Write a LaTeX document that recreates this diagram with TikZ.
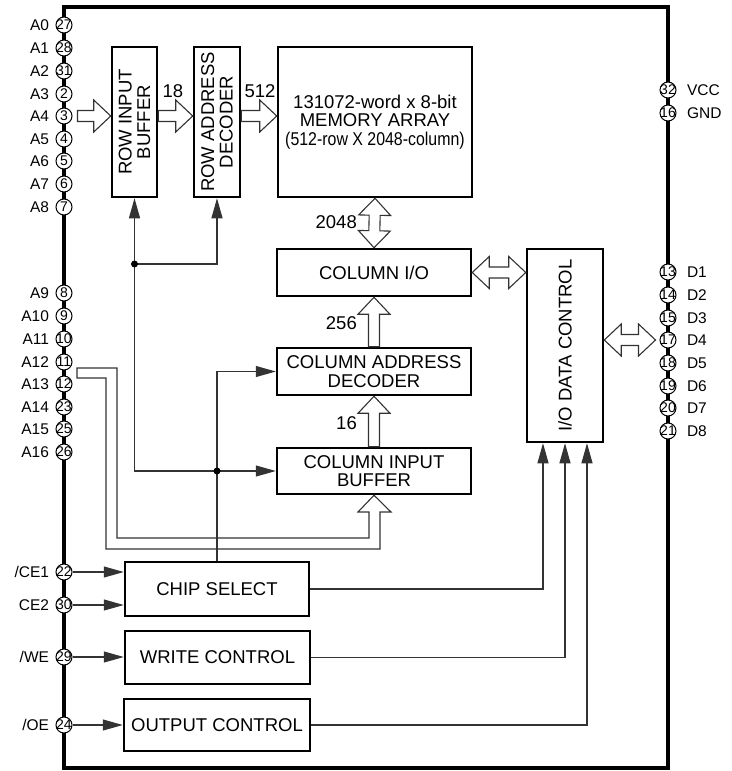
\documentclass[tikz,border=0pt]{standalone}
\usepackage{graphicx}
\usepackage{fontspec}
\setmainfont{Liberation Sans}
\usetikzlibrary{arrows.meta,positioning,calc}
\newcommand{\blockfont}{\fontsize{18.5}{18.5}\selectfont}
\newcommand{\pinfont}{\fontsize{15.5}{15.5}\selectfont}
\newcommand{\numfont}{\fontsize{14}{14}\selectfont}
% hollow bus arrows: #1 = tail, #2 = tip
\newcommand{\busone}[2]{%
  \path ($(#2)!17pt!(#1)$) coordinate (hb);
  \draw[busline] ($(#1)!5.5pt!90:(#2)$) -- ($(hb)!5.5pt!90:(#2)$)
    -- ($(hb)!16pt!90:(#2)$) -- (#2) -- ($(hb)!16pt!-90:(#2)$)
    -- ($(hb)!5.5pt!-90:(#2)$) -- ($(#1)!5.5pt!-90:(#2)$) -- cycle;}
\newcommand{\bustwo}[2]{%
  \path ($(#2)!17pt!(#1)$) coordinate (hb) ($(#1)!17pt!(#2)$) coordinate (ha);
  \draw[busline] (#1) -- ($(ha)!16pt!90:(#2)$) -- ($(ha)!5.5pt!90:(#2)$)
    -- ($(hb)!5.5pt!90:(#2)$) -- ($(hb)!16pt!90:(#2)$) -- (#2)
    -- ($(hb)!16pt!-90:(#2)$) -- ($(hb)!5.5pt!-90:(#2)$)
    -- ($(ha)!5.5pt!-90:(#2)$) -- ($(ha)!16pt!-90:(#2)$) -- cycle;}

\begin{document}
\begin{tikzpicture}[x=1pt, y=-1pt,
  block/.style={draw, line width=2.5pt, align=center, inner sep=0pt,
    font=\blockfont},
  pin/.style={circle, draw, line width=1pt, fill=white, minimum size=16pt,
    inner sep=0pt, font=\numfont},
  pinlbl/.style={font=\pinfont},
  ctl/.style={draw=black!80, line width=1.1pt},
  arrow/.style={ctl, -{Triangle[length=20pt,width=11pt]}},
  busline/.style={draw=black!80, line width=1.1pt, fill=white},
  num/.style={font=\blockfont, inner sep=1pt},
  dot/.style={circle, fill=black, inner sep=0pt, minimum size=7pt}
]
\useasboundingbox (0,0) rectangle (731,771);

% Package outline
\draw[line width=3.5pt] (64,7) rectangle (668,768);

% Blocks
\node[block, minimum width=150, minimum height=45, rotate=90] (rbuf) at (134.5,122) {ROW INPUT\\BUFFER};
\node[block, minimum width=150, minimum height=46, rotate=90] (rdec) at (217,122) {ROW ADDRESS\\DECODER};
\node[block, minimum width=194, minimum height=150] (mem) at (375,122)
  {131072-word x 8-bit\\MEMORY ARRAY\\\scalebox{0.86}[1]{(512-row X 2048-column)}};
\node[block, minimum width=194, minimum height=47] (colio) at (374,272.5) {COLUMN I/O};
\node[block, minimum width=194, minimum height=47] (cadec) at (374,371.5) {COLUMN ADDRESS\\DECODER};
\node[block, minimum width=194, minimum height=46] (cibuf) at (374,471) {COLUMN INPUT\\BUFFER};
\node[block, minimum width=193, minimum height=76, rotate=90] (iodc) at (565,345.5) {I/O DATA CONTROL};
\node[block, minimum width=184, minimum height=54] (chipsel) at (217,589) {CHIP SELECT};
\node[block, minimum width=185, minimum height=53] (wrctl) at (217.5,657.5) {WRITE CONTROL};
\node[block, minimum width=186, minimum height=52] (outctl) at (217,725) {OUTPUT CONTROL};

% Address bus A12/A13
\draw[busline] (77,368) -- (117,368) -- (117,538) -- (369,538) -- (369,512)
  -- (358,512) -- (cibuf.south) -- (391,512) -- (380,512) -- (380,549)
  -- (106,549) -- (106,378) -- (77,378) -- cycle;

% Pins
\foreach \lbl/\num/\y in {A0/27/25, A1/28/48, A2/31/71, A3/2/94, A4/3/116,
    A5/4/139, A6/5/161, A7/6/184, A8/7/207, A9/8/293, A10/9/316, A11/10/339,
    A12/11/362, A13/12/384, A14/23/407, A15/25/429, A16/26/452,
    {/CE1}/22/572, CE2/30/605, {/WE}/29/657, {/OE}/24/725}
  \node[pin, label={[pinlbl, label distance=3pt]left:\lbl}] (pin\num) at (64,\y)
    {\makebox[0pt]{\num}};
\foreach \lbl/\num/\y in {VCC/32/90, GND/16/113, D1/13/272, D2/14/295,
    D3/15/318, D4/17/340, D5/18/363, D6/19/386, D7/20/408, D8/21/431}
  \node[pin, label={[pinlbl, label distance=7pt]right:\lbl}] (pin\num) at (668,\y)
    {\makebox[0pt]{\num}};

% Wide buses
\coordinate (a4s) at ($(pin3.east)+(5,0)$);
\coordinate (a4t) at (rbuf.north |- pin3);
\coordinate (rbs) at (rbuf.south |- pin3);
\coordinate (rdt) at (rdec.north |- pin3);
\coordinate (rds) at (rdec.south |- pin3);
\coordinate (mmt) at (mem.west |- pin3);
\coordinate (iot) at (iodc.north |- colio.east);
\coordinate (dqs) at (iodc.south |- pin17);
\coordinate (dqt) at ($(pin17.west)+(-4,0)$);
\busone{a4s}{a4t}
\busone{rbs}{rdt}
\busone{rds}{mmt}
\bustwo{mem.south}{colio.north}
\bustwo{colio.east}{iot}
\busone{cadec.north}{colio.south}
\busone{cibuf.north}{cadec.south}
\bustwo{dqs}{dqt}

\node[num] (n18) at (173,91) {18};
\node[num] (n512) at (260,91) {512};
\node[num, anchor=east] (n2048) at (358,222) {2048};
\node[num, anchor=east] (n256) at (358,323) {256};
\node[num, anchor=east] (n16) at (358,423) {16};

% Chip select distribution
\coordinate (j2) at (chipsel.north |- cibuf.west);
\coordinate (j1) at (134.5,264);
\draw[ctl] (chipsel.north) -- (j2);
\draw[arrow] (j2) -- (cibuf.west);
\draw[arrow] (j2) |- (cadec.west);
\draw[ctl] (j2) -| (j1);
\draw[arrow] (j1) -- (rbuf.west);
\draw[arrow] (j1) -| (rdec.west);
\node[dot] (dotr) at (j1) {};
\node[dot] (dotc) at (j2) {};

% Control inputs
\draw[arrow] (pin22) -- (chipsel.west |- pin22);
\draw[arrow] (pin30) -- (chipsel.west |- pin30);
\draw[arrow] (pin29) -- (wrctl.west |- pin29);
\draw[arrow] (pin24) -- (outctl.west |- pin24);

% Controls to I/O data control
\draw[arrow] (chipsel.east) -| ([xshift=-22]iodc.west);
\draw[arrow] (wrctl.east) -| (iodc.west);
\draw[arrow] (outctl.east) -| ([xshift=22]iodc.west);

\end{tikzpicture}
\end{document}
